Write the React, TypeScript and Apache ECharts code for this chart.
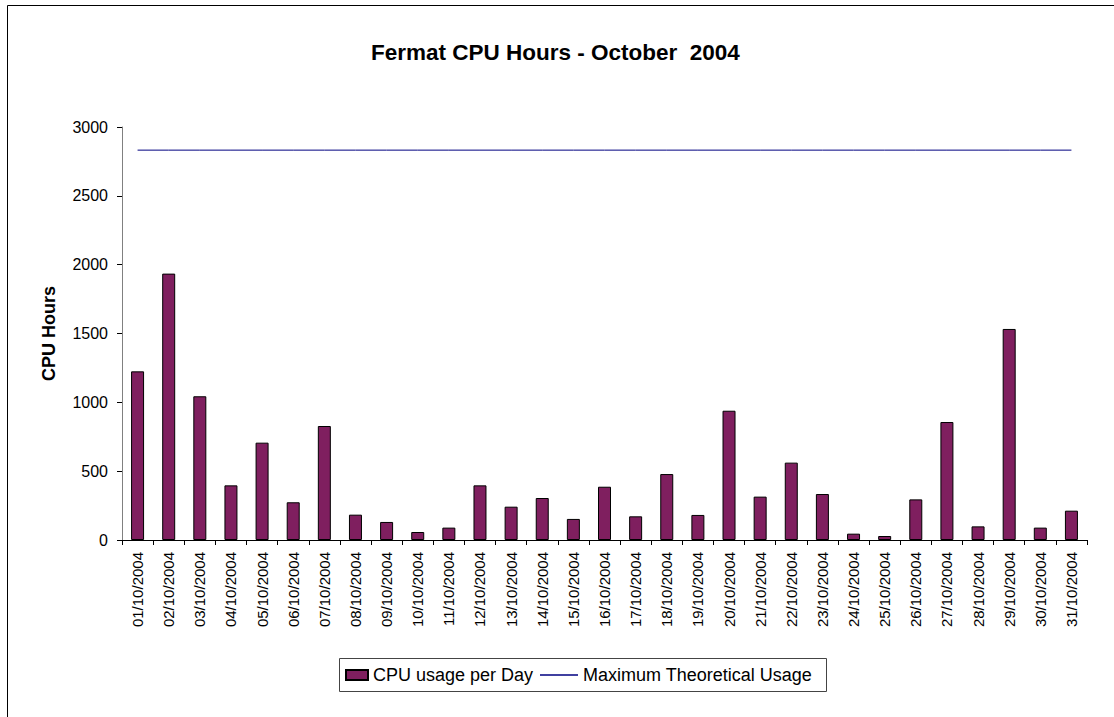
import React, { useEffect, useRef } from "react";
import * as echarts from "echarts";

const days = [
  "01/10/2004", "02/10/2004", "03/10/2004", "04/10/2004", "05/10/2004", "06/10/2004",
  "07/10/2004", "08/10/2004", "09/10/2004", "10/10/2004", "11/10/2004", "12/10/2004",
  "13/10/2004", "14/10/2004", "15/10/2004", "16/10/2004", "17/10/2004", "18/10/2004",
  "19/10/2004", "20/10/2004", "21/10/2004", "22/10/2004", "23/10/2004", "24/10/2004",
  "25/10/2004", "26/10/2004", "27/10/2004", "28/10/2004", "29/10/2004", "30/10/2004",
  "31/10/2004",
];

const cpuUsage = [
  1225, 1935, 1044, 397, 707, 274, 828, 184, 131, 58, 90, 397, 242, 305, 153, 387,
  172, 479, 182, 939, 315, 562, 334, 46, 29, 295, 857, 99, 1533, 90, 213,
];

const maxUsage = [
  2832, 2832, 2832, 2832, 2832, 2832, 2832, 2832, 2832, 2832, 2832, 2832, 2832, 2832,
  2832, 2832, 2832, 2832, 2832, 2832, 2832, 2832, 2832, 2832, 2832, 2832, 2832, 2832,
  2832, 2832, 2832,
];

const FONT = "Liberation Sans, Arial, Helvetica, sans-serif";

export default function App() {
  const ref = useRef<HTMLDivElement>(null);

  useEffect(() => {
    if (!ref.current) return;
    const chart = echarts.init(ref.current, null, { renderer: "svg" });
    chart.setOption({
      animation: false,
      backgroundColor: "#ffffff",
      title: {
        text: "Fermat CPU Hours - October  2004",
        left: 366,
        top: 36,
        textStyle: { fontFamily: FONT, fontSize: 22.5, fontWeight: "bold", color: "#000" },
      },
      legend: [
        {
          data: [{ name: "CPU usage per Day", icon: "rect" }],
          left: 345,
          top: 666,
          itemWidth: 22,
          itemHeight: 10,
          itemGap: 0,
          padding: 0,
          textStyle: { fontFamily: FONT, fontSize: 18, color: "#000" },
        },
        {
          data: [{ name: "Maximum Theoretical Usage", icon: "rect" }],
          left: 540,
          top: 666,
          itemWidth: 38,
          itemHeight: 1.5,
          padding: 0,
          textStyle: { fontFamily: FONT, fontSize: 18, color: "#000" },
        },
      ],
      graphic: [
        {
          type: "rect",
          shape: { x: 7.5, y: 5.5, width: 1300, height: 900 },
          style: { fill: "none", stroke: "#000", lineWidth: 1 },
          silent: true,
        },
        {
          type: "rect",
          shape: { x: 339.5, y: 658.5, width: 487, height: 33 },
          style: { fill: "none", stroke: "#444", lineWidth: 1 },
          silent: true,
        },
      ],
      grid: { left: 122, right: 27, top: 127, bottom: 177, containLabel: false },
      xAxis: {
        type: "category",
        data: days,
        boundaryGap: true,
        axisLine: { show: true, lineStyle: { color: "#000", width: 1 } },
        axisTick: { show: true, inside: false, length: 5, alignWithLabel: false, lineStyle: { color: "#000" } },
        axisLabel: {
          rotate: 90,
          interval: 0,
          margin: 12,
          fontFamily: FONT,
          fontSize: 15,
          color: "#000",
        },
        splitLine: { show: false },
      },
      yAxis: {
        type: "value",
        min: 0,
        max: 3000,
        interval: 500,
        name: "CPU Hours",
        nameLocation: "middle",
        nameGap: 64,
        nameTextStyle: { fontFamily: FONT, fontSize: 18, fontWeight: "bold", color: "#000" },
        axisLine: { show: true, lineStyle: { color: "#808080", width: 1 } },
        axisTick: { show: true, inside: false, length: 5, lineStyle: { color: "#000" } },
        axisLabel: {
          margin: 14,
          fontFamily: FONT,
          fontSize: 16,
          color: "#000",
          formatter: (v: number) => String(v),
        },
        splitLine: { show: false },
      },
      series: [
        {
          name: "CPU usage per Day",
          type: "bar",
          data: cpuUsage,
          barWidth: 13,
          itemStyle: { color: "#7f1f5f", borderColor: "#000", borderWidth: 1 },
        },
        {
          name: "Maximum Theoretical Usage",
          type: "line",
          data: maxUsage,
          symbol: "none",
          lineStyle: { color: "#000080", width: 1 },
          itemStyle: { color: "#000080" },
        },
      ],
    });
    return () => chart.dispose();
  }, []);

  return (
    <div
      ref={ref}
      style={{ position: "absolute", left: 0, top: 0, width: 1114, height: 717 }}
    />
  );
}
